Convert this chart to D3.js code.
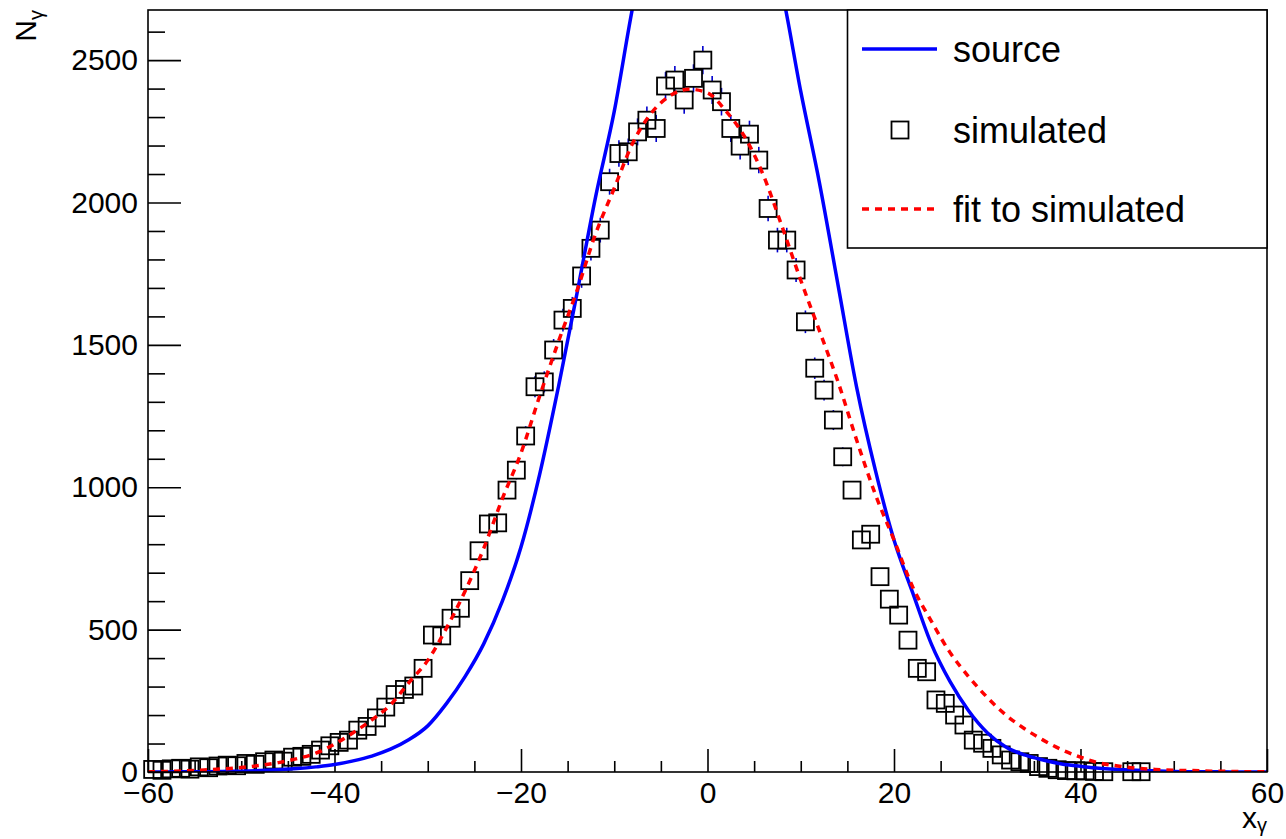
<!DOCTYPE html>
<html>
<head>
<meta charset="utf-8">
<script src="https://cdn.jsdelivr.net/npm/d3@7"></script>
<style>
  body { margin: 0; background: #fff; }
  text { font-family: "Liberation Sans", Arial, Helvetica, sans-serif; }
</style>
</head>
<body>
<script>
// simulated histogram: bin centres and counts (empty bins are 0 and not drawn)
var binCenters = [-59.5,-58.5,-57.5,-56.5,-55.5,-54.5,-53.5,-52.5,-51.5,-50.5,
  -49.5,-48.5,-47.5,-46.5,-45.5,-44.5,-43.5,-42.5,-41.5,-40.5,
  -39.5,-38.5,-37.5,-36.5,-35.5,-34.5,-33.5,-32.5,-31.5,-30.5,
  -29.5,-28.5,-27.5,-26.5,-25.5,-24.5,-23.5,-22.5,-21.5,-20.5,
  -19.5,-18.5,-17.5,-16.5,-15.5,-14.5,-13.5,-12.5,-11.5,-10.5,
  -9.5,-8.5,-7.5,-6.5,-5.5,-4.5,-3.5,-2.5,-1.5,-0.5,
  0.5,1.5,2.5,3.5,4.5,5.5,6.5,7.5,8.5,9.5,
  10.5,11.5,12.5,13.5,14.5,15.5,16.5,17.5,18.5,19.5,
  20.5,21.5,22.5,23.5,24.5,25.5,26.5,27.5,28.5,29.5,
  30.5,31.5,32.5,33.5,34.5,35.5,36.5,37.5,38.5,39.5,
  40.5,41.5,42.5,43.5,44.5,45.5,46.5];
var simCounts = [9,6,11,13,10,18,15,21,24,22,
  30,27,36,42,38,52,55,62,77,92,
  104,112,147,160,190,228,272,290,302,364,
  481,478,540,575,672,777,871,875,990,1060,
  1180,1353,1370,1482,1587,1628,1742,1839,1903,2073,
  2172,2178,2248,2289,2260,2409,2430,2360,2436,2500,
  2395,2354,2260,2198,2240,2149,1979,1868,1868,1763,
  1581,1418,1341,1236,1107,990,815,835,686,607,
  551,463,364,352,253,241,200,165,112,101,
  83,60,42,36,30,19,13,8,5,4,
  4,2,1,0,0,1,1];

var curveX = [-60,-58,-56,-54,-52,-50,-48,-46,-44,-42,-40,-38,-36,-34,-32,-30,-28,-26,-24,-22,
  -20,-18,-16,-14,-12,-10,-8,-6,-4,-2,0,2,4,6,8,10,12,14,16,18,
  20,22,24,26,28,30,32,34,36,38,40,42,44,46,48,50,52,54,56,58,60];
var sourceY = [0,0,1,1,2,3,5,8,12,18,26,39,56,80,114,162,240,335,450,600,
  790,1045,1350,1680,2020,2320,2690,2990,3210,3340,3380,3340,3210,2990,2740,2390,2070,1710,1350,1060,
  815,630,450,318,215,138,88,60,42,28,20,13,9,6,4,2,1,1,0,0,0];
var fitY = [1,2,4,7,11,16,23,33,47,66,98,138,183,236,315,392,505,635,785,960,
  1120,1320,1510,1690,1890,2050,2210,2315,2375,2398,2385,2320,2230,2095,1915,1727,1550,1370,1165,975,
  815,650,530,420,335,262,200,152,112,78,52,32,21,13,9,6,5,3,2,1,1];

var xTicks = [-60,-40,-20,0,20,40,60];
var yTicks = [0,500,1000,1500,2000,2500];
var legendLabels = ["source", "simulated", "fit to simulated"];

// frame
var W = 1286, H = 839;
var frame = {left: 148, right: 1267, top: 10, bottom: 772};

var svg = d3.select("body").append("svg")
    .attr("width", W)
    .attr("height", H);

var x = d3.scaleLinear().domain([-60, 60]).range([frame.left, frame.right]);
var y = d3.scaleLinear().domain([0, 2676]).range([frame.bottom, frame.top]);

svg.append("clipPath").attr("id", "clip")
  .append("rect")
    .attr("x", frame.left).attr("y", frame.top)
    .attr("width", frame.right - frame.left)
    .attr("height", frame.bottom - frame.top);

// minor ticks
var xMinor = d3.range(-60, 61, 5).filter(function(v) { return xTicks.indexOf(v) < 0; });
var yMinor = d3.range(0, 2676, 100).filter(function(v) { return yTicks.indexOf(v) < 0; });

function styleAxis(g) {
  g.select(".domain").remove();
  g.selectAll("line").attr("stroke", "#000").attr("stroke-width", 1.6);
  g.selectAll("text").attr("fill", "#000")
    .style("font-size", "30px")
    .style("font-family", "'Liberation Sans', Arial, sans-serif");
}

svg.append("g")
    .attr("transform", "translate(0," + frame.bottom + ")")
    .call(d3.axisBottom(x).tickValues(xMinor).tickSizeInner(-11).tickSizeOuter(0).tickFormat(""))
    .call(styleAxis);
svg.append("g")
    .attr("transform", "translate(0," + frame.bottom + ")")
    .call(d3.axisBottom(x).tickValues(xTicks).tickSizeInner(-23).tickSizeOuter(0).tickPadding(10))
    .call(styleAxis);

svg.append("g")
    .attr("transform", "translate(" + frame.left + ",0)")
    .call(d3.axisLeft(y).tickValues(yMinor).tickSizeInner(-17).tickSizeOuter(0).tickFormat(""))
    .call(styleAxis);
svg.append("g")
    .attr("transform", "translate(" + frame.left + ",0)")
    .call(d3.axisLeft(y).tickValues(yTicks).tickSizeInner(-33).tickSizeOuter(0).tickPadding(10).tickFormat(d3.format("d")))
    .call(styleAxis);

// simulated points with error bars
var pts = d3.zip(binCenters, simCounts).filter(function(d) { return d[1] > 0; });
var half = 8.5;

var eb = svg.append("g").attr("stroke", "#0000cc").attr("stroke-width", 1.6);
pts.forEach(function(d) {
  var err = Math.sqrt(d[1]);
  var cx = x(d[0]), cy = y(d[1]);
  var yt = y(d[1] + err), yb = y(Math.max(0, d[1] - err));
  if (yt < cy - half) eb.append("line").attr("x1", cx).attr("x2", cx).attr("y1", yt).attr("y2", cy - half);
  if (yb > cy + half) eb.append("line").attr("x1", cx).attr("x2", cx).attr("y1", cy + half).attr("y2", yb);
});

svg.append("g").selectAll("rect")
    .data(pts)
  .enter().append("rect")
    .attr("x", function(d) { return x(d[0]) - half; })
    .attr("y", function(d) { return y(d[1]) - half; })
    .attr("width", half * 2)
    .attr("height", half * 2)
    .attr("fill", "none")
    .attr("stroke", "#000")
    .attr("stroke-width", 1.8);

// curves
var line = d3.line()
    .x(function(d) { return x(d[0]); })
    .y(function(d) { return y(d[1]); })
    .curve(d3.curveMonotoneX);

svg.append("path")
    .attr("clip-path", "url(#clip)")
    .attr("d", line(d3.zip(curveX, sourceY)))
    .attr("fill", "none")
    .attr("stroke", "#0000ff")
    .attr("stroke-width", 3.5);

svg.append("path")
    .attr("clip-path", "url(#clip)")
    .attr("d", line(d3.zip(curveX, fitY)))
    .attr("fill", "none")
    .attr("stroke", "#ff0000")
    .attr("stroke-width", 3.5)
    .attr("stroke-dasharray", "7,6");

// frame box
svg.append("rect")
    .attr("x", frame.left).attr("y", frame.top)
    .attr("width", frame.right - frame.left)
    .attr("height", frame.bottom - frame.top)
    .attr("fill", "none")
    .attr("stroke", "#000")
    .attr("stroke-width", 1.6);

// legend
var lg = svg.append("g");
lg.append("rect")
    .attr("x", 847.5).attr("y", frame.top)
    .attr("width", frame.right - 847.5).attr("height", 238)
    .attr("fill", "#fff")
    .attr("stroke", "#000")
    .attr("stroke-width", 1.6);

var rowY = [49, 130, 209];
lg.append("line").attr("x1", 862).attr("x2", 937).attr("y1", rowY[0]).attr("y2", rowY[0])
    .attr("stroke", "#0000ff").attr("stroke-width", 3.5);
lg.append("rect").attr("x", 900 - half).attr("y", rowY[1] - half)
    .attr("width", half * 2).attr("height", half * 2)
    .attr("fill", "none").attr("stroke", "#000").attr("stroke-width", 1.8);
lg.append("line").attr("x1", 862).attr("x2", 937).attr("y1", rowY[2]).attr("y2", rowY[2])
    .attr("stroke", "#ff0000").attr("stroke-width", 3.5).attr("stroke-dasharray", "7,6");

lg.selectAll("text.lab")
    .data(legendLabels)
  .enter().append("text")
    .attr("class", "lab")
    .attr("x", 953)
    .attr("y", function(d, i) { return rowY[i] + 13; })
    .style("font-size", "36px")
    .text(function(d) { return d; });

// axis titles
var yt = svg.append("text")
    .attr("transform", "translate(36,10) rotate(-90)")
    .attr("text-anchor", "end")
    .style("font-size", "30px");
yt.append("tspan").text("N");
yt.append("tspan").attr("dy", 7).style("font-size", "20px").text("γ");

var xt = svg.append("text")
    .attr("x", frame.right).attr("y", 828)
    .attr("text-anchor", "end")
    .style("font-size", "30px");
xt.append("tspan").text("x");
xt.append("tspan").attr("dy", 4).style("font-size", "20px").text("γ");
</script>
</body>
</html>
